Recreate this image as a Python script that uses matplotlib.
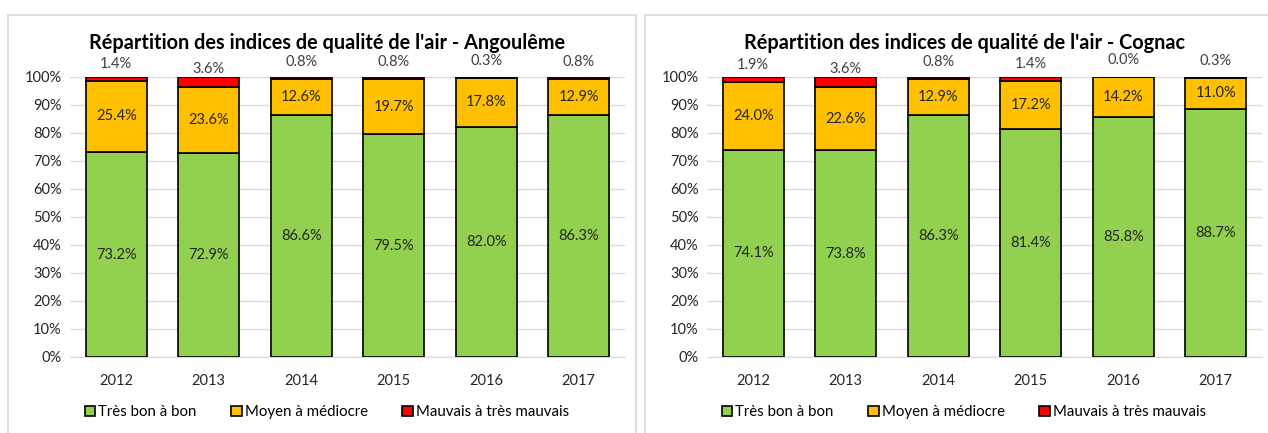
import numpy as np
import matplotlib.pyplot as plt
from matplotlib.patches import Rectangle

# Repartition des indices de qualite de l'air (%)
annees = ['2012', '2013', '2014', '2015', '2016', '2017']

ang_bon = [73.2, 72.9, 86.6, 79.5, 82.0, 86.3]
ang_moyen = [25.4, 23.6, 12.6, 19.7, 17.8, 12.9]
ang_mauvais = [1.4, 3.6, 0.8, 0.8, 0.3, 0.8]

cog_bon = [74.1, 73.8, 86.3, 81.4, 85.8, 88.7]
cog_moyen = [24.0, 22.6, 12.9, 17.2, 14.2, 11.0]
cog_mauvais = [1.9, 3.6, 0.8, 1.4, 0.0, 0.3]

villes = ['Angoulême', 'Cognac']
series = [(ang_bon, ang_moyen, ang_mauvais), (cog_bon, cog_moyen, cog_mauvais)]
noms = ['Très bon à bon', 'Moyen à médiocre', 'Mauvais à très mauvais']
couleurs = ['#92d050', '#ffc000', '#ff0000']

plt.rcParams['font.family'] = ['Lato', 'DejaVu Sans']

fig = plt.figure(figsize=(12.68, 4.33), dpi=100)

# cadres gris des deux graphiques
fig.patches.append(Rectangle((8/1268, -0.01), 628/1268, 1 - 15/433 + 0.01,
                             transform=fig.transFigure, fill=False,
                             edgecolor='#d9d9d9', lw=1.2))
fig.patches.append(Rectangle((645/1268, -0.01), 640/1268, 1 - 15/433 + 0.01,
                             transform=fig.transFigure, fill=False,
                             edgecolor='#d9d9d9', lw=1.2))

gauches = [70/1268, 707/1268]
centres = [327/1268, 964/1268]
x = np.arange(len(annees))

for i in range(2):
    ax = fig.add_axes([gauches[i], 76/433, 555/1268, 280/433])
    bon, moyen, mauvais = series[i]
    bon = np.array(bon); moyen = np.array(moyen); mauvais = np.array(mauvais)

    ax.bar(x, bon, 0.66, color=couleurs[0], edgecolor='black', lw=1.2, label=noms[0], zorder=3)
    ax.bar(x, moyen, 0.66, bottom=bon, color=couleurs[1], edgecolor='black', lw=1.2, label=noms[1], zorder=3)
    ax.bar(x, mauvais, 0.66, bottom=bon + moyen, color=couleurs[2], edgecolor='black', lw=1.2, label=noms[2], zorder=3)

    for j in range(len(annees)):
        ax.text(x[j], bon[j] / 2, f'{bon[j]:.1f}%', ha='center', va='center', fontsize=10.5,
                color='#262626', zorder=4)
        ax.text(x[j], bon[j] + moyen[j] / 2, f'{moyen[j]:.1f}%', ha='center', va='center', fontsize=10.5,
                color='#262626', zorder=4)
        ax.text(x[j], 106.0 - 0.85 * mauvais[j], f'{mauvais[j]:.1f}%', ha='center', va='center',
                fontsize=10.5, color='#404040', clip_on=False)

    ax.set_xlim(-0.5, 5.5)
    ax.set_ylim(0, 100)
    ax.set_yticks(np.arange(0, 101, 10))
    ax.set_yticklabels([f'{v}%' for v in range(0, 101, 10)], fontsize=10.5)
    ax.set_xticks(x)
    ax.set_xticklabels(annees, fontsize=10.5)
    ax.tick_params(length=0, pad=6, labelcolor='#262626')
    ax.tick_params(axis='x', pad=12)
    ax.yaxis.grid(True, color='#d9d9d9', lw=1, zorder=0)
    ax.set_axisbelow(True)
    for s in ['top', 'left', 'right']:
        ax.spines[s].set_visible(False)
    ax.spines['bottom'].set_color('#d9d9d9')
    ax.spines['bottom'].set_zorder(0)

    fig.text(centres[i], 1 - 49/433, "Répartition des indices de qualité de l'air - " + villes[i],
             ha='center', va='baseline', fontsize=14.3, fontweight='bold')

    h, l = ax.get_legend_handles_labels()
    fig.legend(h, l, loc='center', bbox_to_anchor=(centres[i], 1 - 412/433), ncol=3, frameon=False,
               fontsize=10.8, handlelength=0.7, handleheight=0.7, handletextpad=0.2,
               columnspacing=2.3)

fig.savefig('out.png', dpi=100)
